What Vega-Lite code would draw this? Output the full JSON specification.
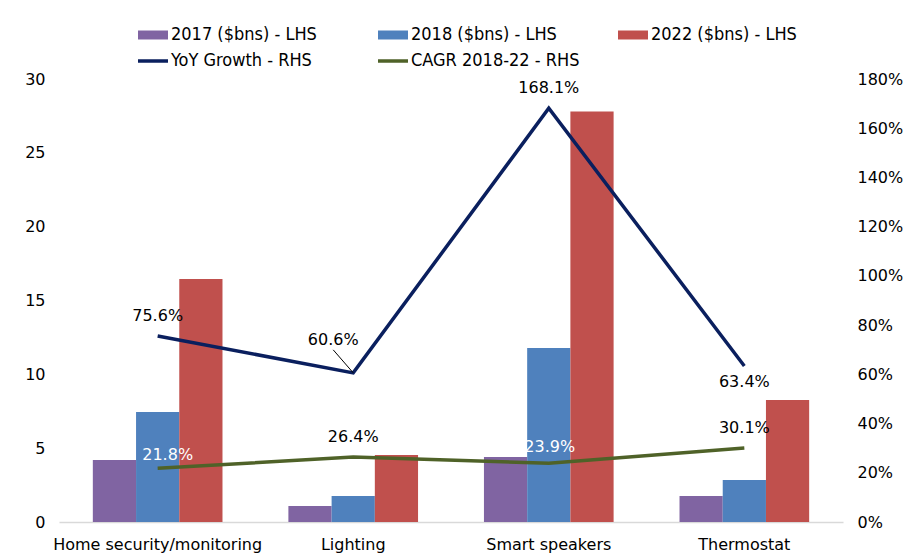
{
  "$schema": "https://vega.github.io/schema/vega-lite/v6.json",
  "width": 784,
  "height": 443,
  "autosize": {"type": "none"},
  "padding": {"left": 59, "top": 79, "right": 74, "bottom": 31},
  "background": "white",
  "config": {
    "view": {"stroke": null},
    "font": "DejaVu Sans",
    "axis": {"grid": false, "ticks": false, "domain": false, "labelFontSize": 16, "labelColor": "#000000", "labelFont": "DejaVu Sans", "labelLimit": 0}
  },
  "datasets": {
    "bars": [
      {"category": "Home security/monitoring", "series": "2017 ($bns) - LHS", "value": 4.2},
      {"category": "Home security/monitoring", "series": "2018 ($bns) - LHS", "value": 7.45},
      {"category": "Home security/monitoring", "series": "2022 ($bns) - LHS", "value": 16.45},
      {"category": "Lighting", "series": "2017 ($bns) - LHS", "value": 1.08},
      {"category": "Lighting", "series": "2018 ($bns) - LHS", "value": 1.76},
      {"category": "Lighting", "series": "2022 ($bns) - LHS", "value": 4.54},
      {"category": "Smart speakers", "series": "2017 ($bns) - LHS", "value": 4.4},
      {"category": "Smart speakers", "series": "2018 ($bns) - LHS", "value": 11.78},
      {"category": "Smart speakers", "series": "2022 ($bns) - LHS", "value": 27.8},
      {"category": "Thermostat", "series": "2017 ($bns) - LHS", "value": 1.76},
      {"category": "Thermostat", "series": "2018 ($bns) - LHS", "value": 2.84},
      {"category": "Thermostat", "series": "2022 ($bns) - LHS", "value": 8.26}
    ],
    "lines": [
      {"category": "Home security/monitoring", "series": "YoY Growth - RHS", "value": 0.756},
      {"category": "Lighting", "series": "YoY Growth - RHS", "value": 0.606},
      {"category": "Smart speakers", "series": "YoY Growth - RHS", "value": 1.681},
      {"category": "Thermostat", "series": "YoY Growth - RHS", "value": 0.634},
      {"category": "Home security/monitoring", "series": "CAGR 2018-22 - RHS", "value": 0.218},
      {"category": "Lighting", "series": "CAGR 2018-22 - RHS", "value": 0.264},
      {"category": "Smart speakers", "series": "CAGR 2018-22 - RHS", "value": 0.239},
      {"category": "Thermostat", "series": "CAGR 2018-22 - RHS", "value": 0.301}
    ]
  },
  "layer": [
    {
      "data": {"name": "bars"},
      "mark": {"type": "bar"},
      "encoding": {
        "x": {
          "field": "category", "type": "nominal",
          "sort": ["Home security/monitoring", "Lighting", "Smart speakers", "Thermostat"],
          "scale": {"paddingInner": 0.337, "paddingOuter": 0.173},
          "axis": {"title": null, "labelAngle": 0, "domain": true, "domainColor": "#d9d9d9", "domainWidth": 1.5, "labelPadding": 14}
        },
        "xOffset": {
          "field": "series", "type": "nominal",
          "sort": ["2017 ($bns) - LHS", "2018 ($bns) - LHS", "2022 ($bns) - LHS"],
          "scale": {"paddingInner": 0, "paddingOuter": 0}
        },
        "y": {
          "field": "value", "type": "quantitative",
          "scale": {"domain": [0, 30], "nice": false},
          "axis": {"title": null, "orient": "left", "values": [0, 5, 10, 15, 20, 25, 30], "labelPadding": 14}
        },
        "color": {
          "field": "series", "type": "nominal",
          "scale": {
            "domain": ["2017 ($bns) - LHS", "2018 ($bns) - LHS", "2022 ($bns) - LHS", "YoY Growth - RHS", "CAGR 2018-22 - RHS"],
            "range": ["#8064A2", "#4F81BD", "#C0504D", "#0A1F5E", "#4F6228"]
          },
          "legend": {
            "title": null,
            "orient": "none",
            "legendX": 85,
            "legendY": -53,
            "direction": "horizontal",
            "columns": 3,
            "gridAlign": "all",
            "columnPadding": 31,
            "rowPadding": 8,
            "labelFont": "DejaVu Sans Condensed",
            "labelFontSize": 18,
            "labelColor": "#000000",
            "labelLimit": 0,
            "labelOffset": 9,
            "symbolSize": 900,
            "encode": {
              "symbols": {
                "update": {
                  "shape": {"signal": "(datum.value == 'YoY Growth - RHS' || datum.value == 'CAGR 2018-22 - RHS') ? 'M-1,0H1' : 'M-1,-0.3H1V0.3H-1Z'"},
                  "fill": {"signal": "(datum.value == 'YoY Growth - RHS' || datum.value == 'CAGR 2018-22 - RHS') ? 'transparent' : scale('color', datum.value)"},
                  "stroke": {"signal": "scale('color', datum.value)"},
                  "strokeWidth": {"signal": "(datum.value == 'YoY Growth - RHS' || datum.value == 'CAGR 2018-22 - RHS') ? 3.5 : 0"},
                  "opacity": {"value": 1}
                }
              }
            }
          }
        }
      }
    },
    {
      "data": {"name": "lines"},
      "layer": [
        {
          "mark": {"type": "line", "strokeWidth": 3.5},
          "encoding": {
            "x": {"field": "category", "type": "nominal", "sort": ["Home security/monitoring", "Lighting", "Smart speakers", "Thermostat"]},
            "y": {
              "field": "value", "type": "quantitative",
              "scale": {"domain": [0, 1.8], "nice": false},
              "axis": {"title": null, "orient": "right", "values": [0, 0.2, 0.4, 0.6, 0.8, 1.0, 1.2, 1.4, 1.6, 1.8], "format": ".0%", "labelPadding": 14}
            },
            "color": {"field": "series", "type": "nominal"}
          }
        },
        {
          "transform": [{"filter": "(datum.series == 'YoY Growth - RHS' && datum.category == 'Lighting')"}],
          "mark": {"type": "rule", "color": "#000000", "strokeWidth": 1, "x2Offset": -20, "y2Offset": -23},
          "encoding": {
            "x": {"field": "category", "type": "nominal", "sort": ["Home security/monitoring", "Lighting", "Smart speakers", "Thermostat"]},
            "x2": {"field": "category"},
            "y": {"field": "value", "type": "quantitative"},
            "y2": {"field": "value"}
          }
        },
        {
          "transform": [{"filter": "(datum.series == 'YoY Growth - RHS' && (datum.category == 'Home security/monitoring' || datum.category == 'Smart speakers')) || (datum.series == 'CAGR 2018-22 - RHS' && (datum.category == 'Lighting' || datum.category == 'Thermostat'))"}],
          "mark": {"type": "text", "fontSize": 16, "color": "#000000", "dy": -20, "baseline": "middle"},
          "encoding": {
            "x": {"field": "category", "type": "nominal", "sort": ["Home security/monitoring", "Lighting", "Smart speakers", "Thermostat"]},
            "y": {"field": "value", "type": "quantitative"},
            "text": {"field": "value", "type": "quantitative", "format": ".1%"}
          }
        },
        {
          "transform": [{"filter": "datum.series == 'YoY Growth - RHS' && datum.category == 'Thermostat'"}],
          "mark": {"type": "text", "fontSize": 16, "color": "#000000", "dy": 16, "baseline": "middle"},
          "encoding": {
            "x": {"field": "category", "type": "nominal", "sort": ["Home security/monitoring", "Lighting", "Smart speakers", "Thermostat"]},
            "y": {"field": "value", "type": "quantitative"},
            "text": {"field": "value", "type": "quantitative", "format": ".1%"}
          }
        },
        {
          "transform": [{"filter": "datum.series == 'YoY Growth - RHS' && datum.category == 'Lighting'"}],
          "mark": {"type": "text", "fontSize": 16, "color": "#000000", "dx": -20, "dy": -33, "baseline": "middle"},
          "encoding": {
            "x": {"field": "category", "type": "nominal", "sort": ["Home security/monitoring", "Lighting", "Smart speakers", "Thermostat"]},
            "y": {"field": "value", "type": "quantitative"},
            "text": {"field": "value", "type": "quantitative", "format": ".1%"}
          }
        },
        {
          "transform": [{"filter": "datum.series == 'CAGR 2018-22 - RHS' && datum.category == 'Home security/monitoring'"}],
          "mark": {"type": "text", "fontSize": 16, "color": "#ffffff", "dx": 10, "dy": -13, "baseline": "middle"},
          "encoding": {
            "x": {"field": "category", "type": "nominal", "sort": ["Home security/monitoring", "Lighting", "Smart speakers", "Thermostat"]},
            "y": {"field": "value", "type": "quantitative"},
            "text": {"field": "value", "type": "quantitative", "format": ".1%"}
          }
        },
        {
          "transform": [{"filter": "datum.series == 'CAGR 2018-22 - RHS' && datum.category == 'Smart speakers'"}],
          "mark": {"type": "text", "fontSize": 16, "color": "#ffffff", "dx": 1, "dy": -16, "baseline": "middle"},
          "encoding": {
            "x": {"field": "category", "type": "nominal", "sort": ["Home security/monitoring", "Lighting", "Smart speakers", "Thermostat"]},
            "y": {"field": "value", "type": "quantitative"},
            "text": {"field": "value", "type": "quantitative", "format": ".1%"}
          }
        }
      ]
    }
  ],
  "resolve": {"scale": {"y": "independent"}}
}
